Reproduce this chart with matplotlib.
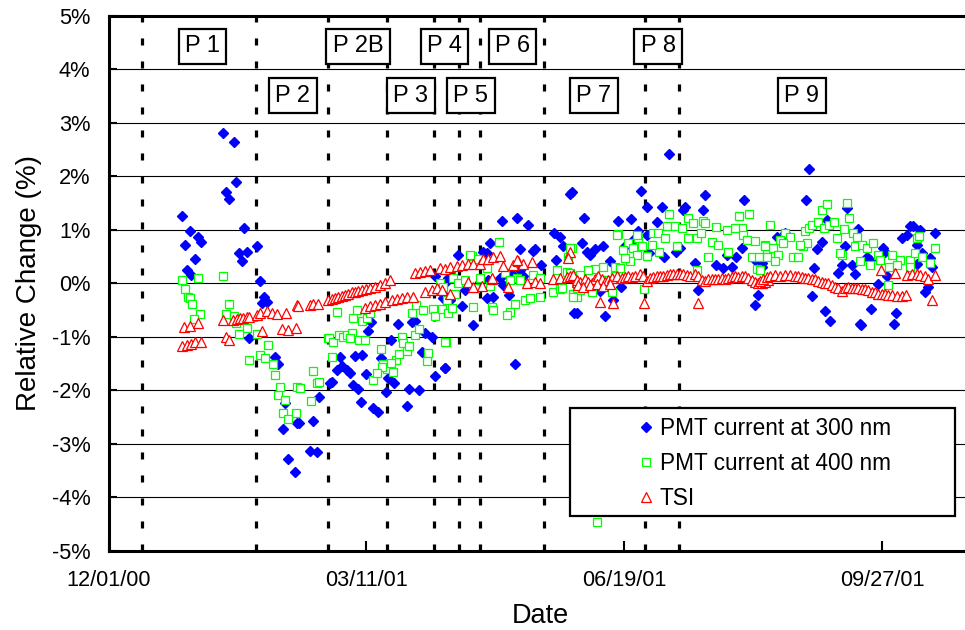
import matplotlib
matplotlib.use('Agg')
import matplotlib.pyplot as plt
import matplotlib.dates as mdates
from matplotlib.patches import Rectangle
from matplotlib.ticker import FixedLocator
import numpy as np

plt.rcParams['font.family'] = ['Liberation Sans', 'DejaVu Sans']

# days counted from 12/01/00, values in %
start = np.datetime64('2000-12-01')

pmt300 = np.array([
    [44.5, 2.82], [48.6, 2.65], [49.4, 1.90], [45.4, 1.70], [46.6, 1.58], [28.5, 1.26], [31.6, 0.98],
    [34.6, 0.87], [35.7, 0.77], [29.7, 0.72], [33.6, 0.46], [30.5, 0.25], [32.0, 0.16], [52.5, 1.04],
    [50.6, 0.57], [53.6, 0.59], [51.6, 0.42], [57.6, 0.69], [58.7, 0.05], [60.4, -0.25], [59.6, -0.37],
    [61.3, -0.35], [54.5, -1.03], [64.4, -1.38], [65.8, -1.51], [68.4, -2.24], [67.5, -2.73], [69.6, -3.28],
    [72.4, -3.53], [73.0, -2.61],
    [73.7, -2.62], [79.4, -2.58], [81.6, -2.12], [78.1, -3.13], [80.7, -3.16], [86.5, -1.84], [85.9, -1.87],
    [89.7, -1.38], [88.4, -1.62], [90.4, -1.54], [92.3, -1.62], [93.6, -1.68], [95.5, -1.36], [98.1, -1.34],
    [94.9, -1.90], [96.8, -1.98], [97.8, -2.21], [99.8, -1.70], [100.7, -0.90], [101.6, -0.72], [102.6, -2.33],
    [104.6, -2.40], [105.5, -1.40], [107.6, -2.04], [109.4, -1.06], [108.5, -1.77], [110.7, -1.86], [112.3, -0.76],
    [116.6, -1.98], [115.6, -2.29], [117.6, -0.72], [118.8, -0.70], [120.5, -1.99], [122.7, -0.93], [125.5, -1.01],
    [121.4, -1.28], [126.4, -1.74], [130.5, -1.58], [131.2, 0.05], [126.6, 0.13], [131.7, 0.10], [129.8, -0.28],
    [138.2, -0.12],
    [178.7, 1.67], [152.4, 1.17], [158.4, 1.23], [162.5, 1.10], [147.9, 0.75], [159.5, 0.64], [165.3, 0.64],
    [164.4, 0.61], [172.7, 0.94], [175.0, 0.86], [176.0, 0.69], [173.4, 0.44], [167.5, 0.34], [135.6, 0.53],
    [145.3, 0.59], [159.5, 0.25], [153.0, -0.03], [155.3, -0.22], [136.9, -0.43], [146.6, -0.28], [149.1, -0.26],
    [141.4, -0.78], [130.4, -1.59], [157.6, -1.51], [180.5, -0.55], [131.1, 0.06], [133.0, 0.13], [129.8, -0.19],
    [132.4, -0.31], [144.0, 0.03], [147.2, 0.06], [151.7, 0.10], [146.6, 0.56], [156.3, 0.18], [160.8, 0.13],
    [217.4, 2.42], [179.5, 1.70], [206.4, 1.73], [231.2, 1.65], [246.3, 1.55], [184.4, 1.22], [197.6, 1.17],
    [202.4, 1.20], [208.6, 1.42], [214.4, 1.42], [223.4, 1.42], [222.6, 1.38], [230.3, 1.38], [212.5, 1.15],
    [205.3, 0.97], [183.4, 0.75], [185.3, 0.59], [186.6, 0.53], [188.6, 0.64], [191.5, 0.69], [194.4, 0.42],
    [198.5, -0.06], [200.2, 0.69], [203.4, 0.81], [208.6, 0.90], [209.7, 0.56], [215.5, 0.50], [220.1, 0.59],
    [221.4, 0.66], [227.2, 0.38], [235.6, 0.34], [238.2, 0.28], [241.5, 0.31], [243.4, 0.50], [245.4, 0.66],
    [239.6, 0.53], [250.6, 0.44], [251.9, -0.22], [250.6, -0.40], [228.6, -0.12], [253.2, 0.38], [190.5, -0.14],
    [195.7, -0.31], [181.5, -0.55], [192.4, -0.61],
    [271.5, 2.14], [270.3, 1.55], [286.4, 1.40], [278.4, 1.18], [290.6, 1.01], [262.2, 0.94], [259.0, 0.87],
    [274.5, 0.64], [276.4, 0.78], [285.5, 0.70], [252.5, 0.44], [253.2, 0.31], [273.5, 0.29], [284.2, 0.34],
    [282.9, 0.19], [289.3, 0.18], [288.1, 0.34], [293.9, 0.50], [295.2, 0.44], [300.3, 0.66], [301.0, 0.59],
    [310.6, 1.07], [311.9, 1.07], [314.5, 1.00], [309.4, 0.90], [307.4, 0.84], [313.3, 0.72], [315.2, 0.56],
    [313.3, 0.37], [320.3, 0.94], [318.4, 0.47], [319.1, 0.31], [298.4, -0.01], [301.6, 0.13], [316.5, -0.16],
    [317.7, -0.06], [272.6, -0.24], [277.7, -0.51], [279.7, -0.70], [291.3, -0.76], [295.5, -0.48], [305.2, -0.56],
    [304.5, -0.76], [291.6, -0.78],
])

pmt400 = np.array([
    [28.6, 0.06], [29.5, -0.10], [30.7, -0.25], [31.6, -0.28], [32.5, -0.39], [34.6, 0.10], [35.6, -0.58],
    [33.3, -0.67], [44.5, 0.13], [46.6, -0.38], [45.4, -0.58], [48.6, -0.61], [49.4, -0.75], [53.6, -0.83],
    [50.5, -0.94], [57.4, -0.95], [61.7, -1.15], [58.7, -1.34], [54.6, -1.43], [60.5, -1.40], [63.6, -1.51],
    [64.4, -1.71], [66.6, -1.94], [65.6, -2.08], [68.5, -2.18], [67.5, -2.43], [69.6, -2.53], [72.6, -2.43],
    [73.2, -1.94],
    [74.2, -1.95], [78.5, -2.20], [79.4, -1.63], [80.7, -1.86], [81.6, -1.85], [85.2, -1.03], [86.5, -1.37],
    [88.4, -0.54], [94.9, -0.65], [96.4, -0.50], [98.1, -0.70], [100.1, -0.65], [101.4, -0.56], [85.6, -1.03],
    [87.2, -1.09], [89.5, -0.96], [91.0, -1.00], [92.3, -0.96], [94.3, -0.92], [93.6, -1.03], [97.2, -1.06],
    [99.4, -1.06], [105.6, -1.23], [106.5, -1.51], [108.1, -1.61], [105.9, -1.56], [110.4, -1.65], [111.4, -1.43],
    [112.7, -1.32], [109.4, -1.49], [102.4, -1.81], [104.2, -1.68], [113.6, -1.00], [114.3, -1.12], [115.6, -1.26],
    [116.6, -1.18], [118.8, -0.96], [120.5, -0.86], [117.5, -0.55], [119.2, -0.40], [121.8, -0.50], [124.0, -1.31],
    [123.6, -1.46], [125.6, -0.48], [126.5, -0.61], [129.3, -0.48], [130.8, -1.09], [128.5, 0.01], [131.7, -0.56],
    [151.5, 0.77], [140.8, 0.51], [143.4, 0.45], [140.1, 0.53], [141.4, -0.44], [179.5, 0.67], [178.3, 0.49],
    [146.6, 0.28], [153.7, 0.19], [158.3, 0.10], [164.7, 0.16], [167.3, 0.10], [173.7, 0.25], [177.6, 0.22],
    [180.8, 0.13], [133.6, 0.10], [135.6, 0.00], [138.2, 0.06], [144.0, 0.10], [129.8, -0.06], [134.3, -0.19],
    [131.1, -0.31], [133.0, -0.47], [130.4, -1.09], [148.5, -0.44], [149.1, -0.50], [142.1, -0.09], [147.9, -0.05],
    [157.6, -0.39], [155.6, -0.53], [154.3, -0.59], [161.4, -0.31], [163.4, -0.28], [167.3, -0.25], [159.5, 0.06],
    [155.6, 0.06], [172.4, -0.16], [175.0, -0.11], [175.7, -0.09], [180.2, -0.19], [181.5, -0.25], [182.8, -0.12],
    [187.3, -0.12],
    [197.6, 0.92], [217.2, 1.29], [224.5, 1.23], [226.7, 1.12], [230.3, 1.17], [231.2, 1.12], [235.3, 1.05],
    [244.4, 1.26], [248.3, 1.29], [245.4, 1.03], [242.8, 1.03], [239.6, 1.00], [211.2, 0.94], [216.4, 1.07],
    [219.6, 1.07], [222.4, 1.03], [213.1, 0.94], [215.7, 0.84], [220.5, 0.70], [224.7, 0.84], [228.0, 0.84],
    [229.6, 0.94], [233.8, 0.78], [236.4, 0.72], [240.3, 0.59], [246.1, 0.90], [247.4, 0.81], [250.6, 0.80],
    [254.5, 0.72], [255.2, 0.59], [249.4, 0.50], [252.0, 0.50], [251.4, 0.26], [232.5, 0.49], [205.4, 0.84],
    [206.7, 0.69], [201.5, 0.75], [203.4, 0.66], [199.5, 0.62], [208.6, 0.51], [204.7, 0.53], [202.1, 0.41],
    [200.2, 0.47], [213.5, 0.59], [210.5, 0.72], [196.3, 0.30], [191.8, 0.31], [188.6, 0.26], [186.0, 0.25],
    [182.8, 0.16], [181.5, -0.09], [187.3, -0.17], [195.1, -0.17], [207.6, -0.11], [178.9, 0.66], [178.9, 0.19],
    [180.2, -0.25], [193.1, 0.06], [196.3, 0.13], [198.3, 0.28], [228.0, 0.25], [197.0, 0.90], [204.7, 0.90],
    [189.5, -4.47],
    [256.4, 1.10], [276.7, 1.38], [278.4, 1.48], [286.4, 1.51], [287.2, 1.22], [270.1, 0.97], [271.4, 1.03],
    [272.7, 1.09], [275.1, 1.15], [277.3, 1.03], [279.3, 1.09], [281.2, 1.15], [285.1, 1.01], [288.6, 0.94],
    [290.2, 0.87], [282.5, 0.84], [262.2, 0.94], [264.1, 0.86], [260.2, 0.81], [261.5, 0.75], [257.6, 0.66],
    [254.4, 0.70], [255.1, 0.50], [259.6, 0.53], [265.4, 0.50], [267.4, 0.50], [269.3, 0.69], [270.6, 0.75],
    [268.0, 0.72], [258.3, 0.42], [252.5, 0.25], [284.2, 0.53], [283.5, 0.56], [289.3, 0.70], [291.9, 0.72],
    [293.9, 0.66], [296.5, 0.75], [291.3, 0.41], [295.2, 0.34], [298.4, 0.53], [299.1, 0.44], [303.6, 0.53],
    [306.8, 0.44], [302.6, 0.31], [305.5, 0.34], [310.6, 0.44], [312.6, 0.56], [313.5, 0.84], [314.3, 0.89],
    [315.4, 0.50], [318.4, 0.38], [320.3, 0.66], [302.3, -0.04], [310.6, 0.31],
])

tsi = np.array([
    [28.6, -1.18], [30.3, -1.15], [32.0, -1.13], [33.6, -1.10], [35.7, -1.10], [29.3, -0.81], [31.6, -0.80],
    [34.6, -0.75], [44.5, -0.68], [45.5, -1.01], [46.6, -1.06], [48.4, -0.68], [49.7, -0.67], [51.0, -0.65],
    [52.2, -0.64], [53.6, -0.63], [54.6, -0.63], [57.4, -0.59], [58.7, -0.56], [59.6, -0.90], [61.3, -0.52],
    [63.3, -0.56], [65.2, -0.57], [67.1, -0.86], [68.7, -0.56], [69.7, -0.88], [72.6, -0.83], [72.9, -0.41],
    [73.6, -0.42], [78.1, -0.40], [79.4, -0.39], [81.3, -0.39], [85.2, -0.31], [86.5, -0.29], [87.8, -0.27],
    [89.1, -0.25], [90.4, -0.23], [91.7, -0.21], [93.0, -0.19], [94.3, -0.17], [95.5, -0.16], [96.8, -0.14],
    [98.1, -0.12], [100.0, -0.11], [101.3, -0.09], [103.3, -0.06], [105.2, -0.03], [107.2, 0.00], [109.1, 0.06],
    [99.4, -0.47], [101.4, -0.42], [103.3, -0.40], [105.2, -0.39], [107.2, -0.34], [109.8, -0.31], [111.7, -0.29],
    [113.6, -0.28], [115.6, -0.25], [118.1, -0.25],
    [118.8, 0.19], [120.7, 0.22], [122.7, 0.24], [124.6, 0.25], [128.5, 0.28], [130.4, 0.26], [132.4, 0.31],
    [135.0, 0.33], [136.9, 0.34], [139.5, 0.36], [141.4, 0.37], [143.9, 0.37],
    [122.7, -0.16], [125.3, -0.12], [127.2, -0.09], [129.1, -0.12], [132.4, -0.19], [139.5, 0.03], [141.2, -0.06],
    [144.7, -0.05], [148.6, 0.08], [154.9, -0.06], [162.1, 0.00], [165.3, 0.03], [167.3, 0.00], [172.4, 0.08],
    [175.0, 0.10], [177.6, 0.11], [180.2, 0.13], [181.5, 0.03],
    [145.3, 0.45], [147.2, 0.46], [149.1, 0.50], [151.7, 0.51], [153.0, 0.33], [156.8, 0.34], [158.8, 0.42],
    [160.8, 0.37], [164.0, 0.40], [158.4, 0.44], [148.6, 0.10], [178.9, 0.59], [178.2, 0.47],
    [178.9, 0.13], [180.2, 0.16], [181.5, 0.06], [182.8, 0.03], [184.7, 0.08], [186.0, 0.03], [187.3, 0.00],
    [188.6, 0.08], [189.8, 0.13], [191.2, 0.08], [192.4, 0.03], [193.7, 0.06], [195.0, 0.10], [197.0, 0.13],
    [198.9, 0.10], [200.2, 0.11], [201.5, 0.13], [202.8, 0.11], [204.1, 0.13], [206.0, 0.18], [207.3, 0.13],
    [208.6, 0.05], [209.9, 0.10], [211.2, 0.11], [212.5, 0.13], [213.8, 0.14], [215.0, 0.13], [216.4, 0.16],
    [217.6, 0.18], [218.9, 0.18], [220.2, 0.17], [221.5, 0.18], [222.8, 0.17], [224.1, 0.16], [225.4, 0.14],
    [227.3, 0.18], [228.6, 0.13], [229.9, 0.06], [231.2, 0.05], [232.5, 0.08], [233.8, 0.09], [235.1, 0.08],
    [236.4, 0.08], [237.7, 0.10], [239.0, 0.08], [240.2, 0.10], [241.5, 0.11], [242.8, 0.13], [244.1, 0.11],
    [245.4, 0.14], [246.7, 0.13], [248.0, 0.10], [249.3, 0.06], [250.6, 0.03], [251.9, 0.01], [253.2, 0.00],
    [254.5, 0.03], [255.7, 0.06],
    [181.9, -0.03], [184.1, -0.06], [186.6, -0.04], [189.2, -0.01], [191.8, -0.05], [194.4, -0.02],
    [190.5, -0.34], [195.4, -0.37], [207.6, -0.37], [228.4, -0.36],
    [252.5, 0.05], [253.8, 0.08], [255.1, 0.11], [256.4, 0.13], [258.3, 0.16], [260.3, 0.14], [262.2, 0.16],
    [264.1, 0.16], [266.1, 0.14], [267.4, 0.13], [268.7, 0.11], [270.0, 0.10], [271.2, 0.10], [272.6, 0.08],
    [273.8, 0.08], [275.1, 0.05], [276.4, 0.03], [277.7, 0.01], [279.0, 0.00], [280.3, -0.03], [281.6, -0.06],
    [282.9, -0.09], [284.2, -0.14], [285.5, -0.09], [286.7, -0.07], [288.1, -0.09], [289.3, -0.09], [290.6, -0.09],
    [291.9, -0.11], [293.2, -0.11], [294.5, -0.12], [295.8, -0.16], [297.1, -0.17], [298.4, -0.19], [299.7, -0.20],
    [301.0, -0.20], [302.2, -0.22], [303.6, -0.22], [305.5, -0.24], [307.4, -0.24], [309.1, -0.22],
    [309.4, 0.16], [311.3, 0.18], [313.3, 0.18], [314.5, 0.16], [316.5, 0.13], [317.8, 0.08], [320.3, 0.16],
    [299.3, 0.25], [304.8, 0.19], [319.1, -0.31],
])

series_names = ['PMT current at 300 nm', 'PMT current at 400 nm', 'TSI']

# period boundaries and labels
period_dates = ['2000-12-14', '2001-01-27', '2001-02-24', '2001-03-19', '2001-04-06',
                '2001-04-16', '2001-04-24', '2001-05-19', '2001-06-27', '2001-07-10']
period_names = ['P 1', 'P 2', 'P 2B', 'P 3', 'P 4', 'P 5', 'P 6', 'P 7', 'P 8', 'P 9']
period_label_day = [36.4, 71.4, 96.7, 117.2, 130.2, 140.5, 156.6, 188.1, 213.0, 268.8]
period_label_val = [4.43, 3.51, 4.43, 3.51, 4.43, 3.51, 4.43, 3.51, 4.43, 3.51]

tick_dates = ['2000-12-01', '2001-03-11', '2001-06-19', '2001-09-27']
y_ticks = list(range(-5, 6))


def to_num(days):
    return mdates.date2num(start) + np.asarray(days)


fig = plt.figure(figsize=(9.65, 6.3), dpi=100)
ax = fig.add_axes([108.5 / 965, 79.3 / 630, 856.5 / 965, 534.7 / 630])

ax.plot(to_num(pmt300[:, 0]), pmt300[:, 1], ls='none', marker='D', ms=4.6,
        color='#0000ff', mec='#0000ff', label=series_names[0], zorder=3)
ax.plot(to_num(pmt400[:, 0]), pmt400[:, 1], ls='none', marker='s', ms=6.3,
        mfc='white', mec='#00ff00', mew=0.9, label=series_names[1], zorder=3)
ax.plot(to_num(tsi[:, 0]), tsi[:, 1], ls='none', marker='^', ms=6.5,
        mfc='white', mec='#ff0000', mew=0.9, label=series_names[2], zorder=3)

# period boundaries
pd_num = mdates.date2num(np.array(period_dates, dtype='datetime64[D]'))
ax.vlines(pd_num, -5, 5.08, colors='black', linewidth=2.3,
          linestyles=(0, (2.2, 5.0)), clip_on=False, zorder=2)

for name, d, v in zip(period_names, period_label_day, period_label_val):
    ax.text(to_num(d), v, name, ha='center', va='center', fontsize=17, zorder=4,
            bbox=dict(boxstyle='square,pad=0.27', fc='white', ec='black', lw=1.6))

ax.set_xlim(to_num(0), to_num(332))
ax.set_ylim(-5, 5)

ax.xaxis.set_major_locator(FixedLocator(mdates.date2num(np.array(tick_dates, dtype='datetime64[D]'))))
ax.xaxis.set_major_formatter(mdates.DateFormatter('%m/%d/%y'))
ax.set_yticks(y_ticks)
ax.set_yticklabels([f'{v}%' for v in y_ticks])

ax.tick_params(axis='x', direction='in', length=7, width=1.5, pad=14, labelsize=15.7)
ax.tick_params(axis='y', direction='in', length=6, width=1.5, pad=13, labelsize=15.7)
ax.yaxis.grid(True, color='black', linewidth=0.8)
ax.set_axisbelow(True)

for s in ['left', 'bottom', 'top']:
    ax.spines[s].set_linewidth(2.2)
ax.spines['right'].set_visible(False)

ax.set_ylabel('Relative Change (%)', fontsize=20)
ax.yaxis.set_label_coords(-0.078, 0.5)
ax.set_xlabel('Date', fontsize=19.5)
ax.xaxis.set_label_coords(0.5047, -0.098)

# legend box
frame = Rectangle((0.5388, 0.0649), 0.4495, 0.2014, transform=ax.transAxes,
                  fc='white', ec='black', lw=1.6, zorder=5)
ax.add_patch(frame)
leg = ax.legend(loc='upper left', bbox_to_anchor=(0.620, 0.2500), frameon=False,
                fontsize=16.3, handlelength=0.6, handletextpad=0.3, borderpad=0,
                borderaxespad=0, labelspacing=0.52, numpoints=1)
leg.set_zorder(6)

fig.savefig('out.png', dpi=100)
